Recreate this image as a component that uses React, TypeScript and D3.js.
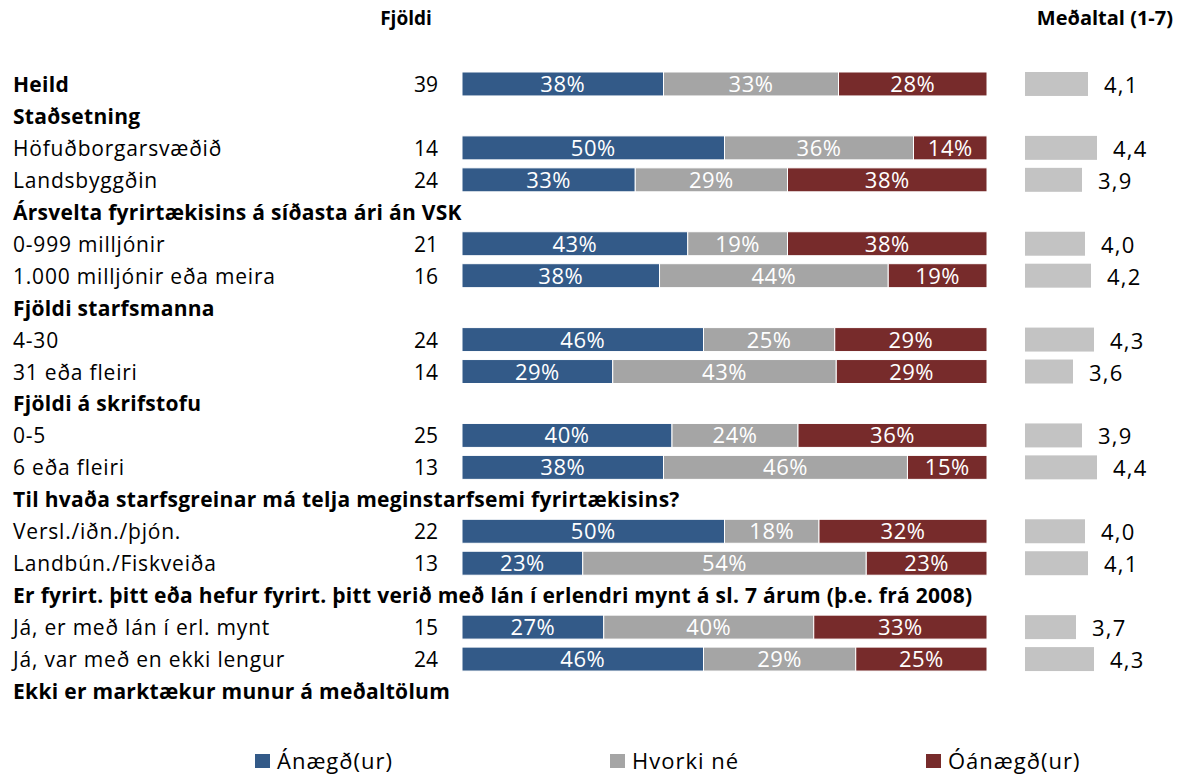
import React from 'react';
import * as d3 from 'd3';

// row labels, in order top to bottom
const labels = [
  'Heild',
  'Staðsetning',
  'Höfuðborgarsvæðið',
  'Landsbyggðin',
  'Ársvelta fyrirtækisins á síðasta ári án VSK',
  '0-999 milljónir',
  '1.000 milljónir eða meira',
  'Fjöldi starfsmanna',
  '4-30',
  '31 eða fleiri',
  'Fjöldi á skrifstofu',
  '0-5',
  '6 eða fleiri',
  'Til hvaða starfsgreinar má telja meginstarfsemi fyrirtækisins?',
  'Versl./iðn./þjón.',
  'Landbún./Fiskveiða',
  'Er fyrirt. þitt eða hefur fyrirt. þitt verið með lán í erlendri mynt á sl. 7 árum (þ.e. frá 2008)',
  'Já, er með lán í erl. mynt',
  'Já, var með en ekki lengur',
  'Ekki er marktækur munur á meðaltölum',
];
const bold = [true, true, false, false, true, false, false, true, false, false, true, false, false, true, false, false, true, false, false, true];

// null = header row without bars
const counts = [39, null, 14, 24, null, 21, 16, null, 24, 14, null, 25, 13, null, 22, 13, null, 15, 24, null];
const satisfied = [38, null, 50, 33, null, 43, 38, null, 46, 29, null, 40, 38, null, 50, 23, null, 27, 46, null];
const neither = [33, null, 36, 29, null, 19, 44, null, 25, 43, null, 24, 46, null, 18, 54, null, 40, 29, null];
const dissatisfied = [28, null, 14, 38, null, 38, 19, null, 29, 29, null, 36, 15, null, 32, 23, null, 33, 25, null];
const means = [4.1, null, 4.4, 3.9, null, 4.0, 4.2, null, 4.3, 3.6, null, 3.9, 4.4, null, 4.0, 4.1, null, 3.7, 4.3, null];

const seriesNames = ['Ánægð(ur)', 'Hvorki né', 'Óánægð(ur)'];
const colors = ['#335a88', '#a5a5a5', '#772b2b'];

const W = 1182;
const H = 776;
const font = "'Open Sans', sans-serif";

export default function App() {
  const y = d3.scaleBand<number>().domain(d3.range(labels.length)).range([68, 707]).paddingInner(0.25).paddingOuter(0.125);
  const meanX = d3.scaleLinear().domain([2, 7]).range([1025, 1175]);

  const rows = labels.map((lab, i) => {
    const vals = [satisfied[i], neither[i], dissatisfied[i]];
    const hasData = counts[i] !== null;
    const total = hasData ? d3.sum(vals as number[]) : 1;
    const x = d3.scaleLinear().domain([0, total]).range([462, 987]);
    let acc = 0;
    const segs = hasData
      ? (vals as number[]).map((v, k) => {
          const s = { x0: x(acc), x1: x(acc + v), v, k };
          acc += v;
          return s;
        })
      : [];
    return { lab, i, hasData, segs };
  });

  const bh = y.bandwidth();

  return (
    <svg width={W} height={H} style={{ position: 'absolute', left: 0, top: 0, background: '#fff' }} fontFamily={font}>
      <text x={406} y={25} fontSize={19} fontWeight="bold" textAnchor="middle">Fjöldi</text>
      <text x={1173} y={25} fontSize={20} fontWeight="bold" textAnchor="end">Meðaltal (1-7)</text>
      {rows.map((r) => {
        const cy = (y(r.i) as number) + bh / 2;
        return (
          <g key={r.i}>
            <text
              x={13}
              y={cy + 8}
              fontSize={21}
              fontWeight={bold[r.i] ? 'bold' : 'normal'}
              letterSpacing={bold[r.i] ? 0.3 : 0.8}
            >
              {r.lab}
            </text>
            {r.hasData && (
              <>
                <text x={438} y={cy + 8} fontSize={21} textAnchor="end">{counts[r.i]}</text>
                {r.segs.map((s) => (
                  <g key={s.k}>
                    <rect x={s.x0} y={y(r.i)} width={s.x1 - s.x0} height={bh} fill={colors[s.k]} stroke="#fff" strokeWidth={1} />
                    <text x={(s.x0 + s.x1) / 2} y={cy + 8} fontSize={22} letterSpacing={0.5} fill="#fff" textAnchor="middle">{s.v}%</text>
                  </g>
                ))}
                <rect x={meanX(2)} y={y(r.i)} width={meanX(means[r.i] as number) - meanX(2)} height={bh} fill="#c3c3c3" />
                <text x={meanX(means[r.i] as number) + 16} y={cy + 9} fontSize={22} letterSpacing={1.2}>
                  {(means[r.i] as number).toFixed(1).replace('.', ',')}
                </text>
              </>
            )}
          </g>
        );
      })}
      {seriesNames.map((n, k) => {
        const lx = [255, 610, 926][k];
        return (
          <g key={n}>
            <rect x={lx} y={754} width={15} height={14} fill={colors[k]} />
            <text x={lx + 22} y={769} fontSize={22} letterSpacing={1}>{n}</text>
          </g>
        );
      })}
    </svg>
  );
}
